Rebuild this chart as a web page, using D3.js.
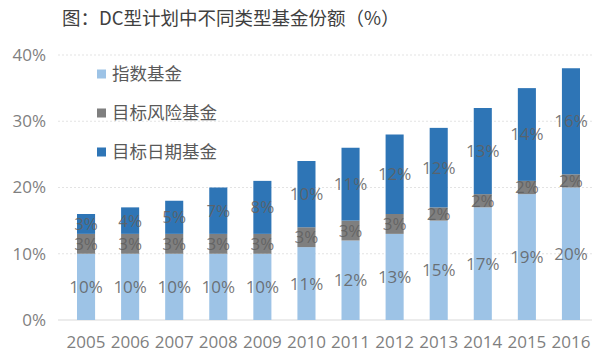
<!DOCTYPE html>
<html><head><meta charset="utf-8">
<script src="https://cdn.jsdelivr.net/npm/d3@7"></script>
<style>
body{margin:0;background:#fff;}
svg{display:block;font-family:"Open Sans","Noto Sans CJK SC",sans-serif;}
</style></head>
<body><svg id="c" width="600" height="357"></svg>
<script>
const years = ["2005","2006","2007","2008","2009","2010","2011","2012","2013","2014","2015","2016"];
const indexFund = [10,10,10,10,10,11,12,13,15,17,19,20];
const targetRisk = [3,3,3,3,3,3,3,3,2,2,2,2];
const targetDate = [3,4,5,7,8,10,11,12,12,13,14,16];
const seriesNames = ["指数基金","目标风险基金","目标日期基金"];
const seriesColors = ["#9dc3e6","#7f7f7f","#2e75b6"];
const yTicks = [0,10,20,30,40];
const title = "图：DC型计划中不同类型基金份额（%）";

const svg = d3.select("#c");
const x = d3.scaleBand().domain(years).range([64,593]).paddingInner(0.59).paddingOuter(0.295);
const y = d3.scaleLinear().domain([0,40]).range([320,55]);

svg.append("text").attr("x",62).attr("y",25).attr("fill","#404040")
  .style("font-family","'Noto Sans CJK SC',sans-serif").style("font-size","18.5px").text(title);

// grid
svg.append("g").selectAll("line").data(yTicks).join("line")
  .attr("x1",58).attr("x2",592).attr("y1",d=>y(d)).attr("y2",d=>y(d))
  .attr("stroke",d=>d===0?"#d9d9d9":"#e3e3e3").attr("stroke-width",1)
  .attr("stroke-dasharray",d=>d===0?null:"2,2");

// y axis labels
const yAxis = d3.axisLeft(y).tickValues(yTicks).tickFormat(d=>d+"%").tickSize(0).tickPadding(0);
const ga = svg.append("g").attr("transform","translate(46,0)").call(yAxis);
ga.select(".domain").remove();
ga.selectAll("text").attr("fill","#7f7f7f").style("font-size","17px").style("font-family","'Open Sans',sans-serif");

// x axis labels
const xAxis = d3.axisBottom(x).tickSize(0).tickPadding(0);
const gx = svg.append("g").attr("transform","translate(0,336)").call(xAxis);
gx.select(".domain").remove();
gx.selectAll("text").attr("fill","#7f7f7f").style("font-size","17px").style("font-family","'Open Sans',sans-serif");

const data = years.map((yr,i)=>({year:yr, s0:indexFund[i], s1:targetRisk[i], s2:targetDate[i]}));
const stack = d3.stack().keys(["s0","s1","s2"])(data);

stack.forEach((layer,k)=>{
  const g = svg.append("g");
  g.selectAll("rect").data(layer).join("rect")
    .attr("x",d=>x(d.data.year)).attr("width",x.bandwidth())
    .attr("y",d=>y(d[1])).attr("height",d=>y(d[0])-y(d[1]))
    .attr("fill",seriesColors[k]);
});
stack.forEach((layer,k)=>{
  svg.append("g").selectAll("text").data(layer).join("text")
    .attr("x",d=>x(d.data.year)+x.bandwidth()/2)
    .attr("y",d=>y((d[0]+d[1])/2))
    .attr("dy","0.35em").attr("text-anchor","middle")
    .attr("fill","#606060").attr("fill-opacity",0.85)
    .style("font-size","17px").style("font-family","'Open Sans',sans-serif")
    .text(d=>(d[1]-d[0])+"%");
});

// legend
const leg = svg.append("g");
const legY = [74,113,152];
seriesNames.forEach((n,i)=>{
  leg.append("rect").attr("x",97).attr("y",legY[i]-4.5).attr("width",9).attr("height",9).attr("fill",seriesColors[i]);
  leg.append("text").attr("x",112).attr("y",legY[i]).attr("dy","0.35em").attr("fill","#595959")
    .style("font-size","17.5px").style("font-family","'Noto Sans CJK SC',sans-serif").text(n);
});
</script></body></html>
